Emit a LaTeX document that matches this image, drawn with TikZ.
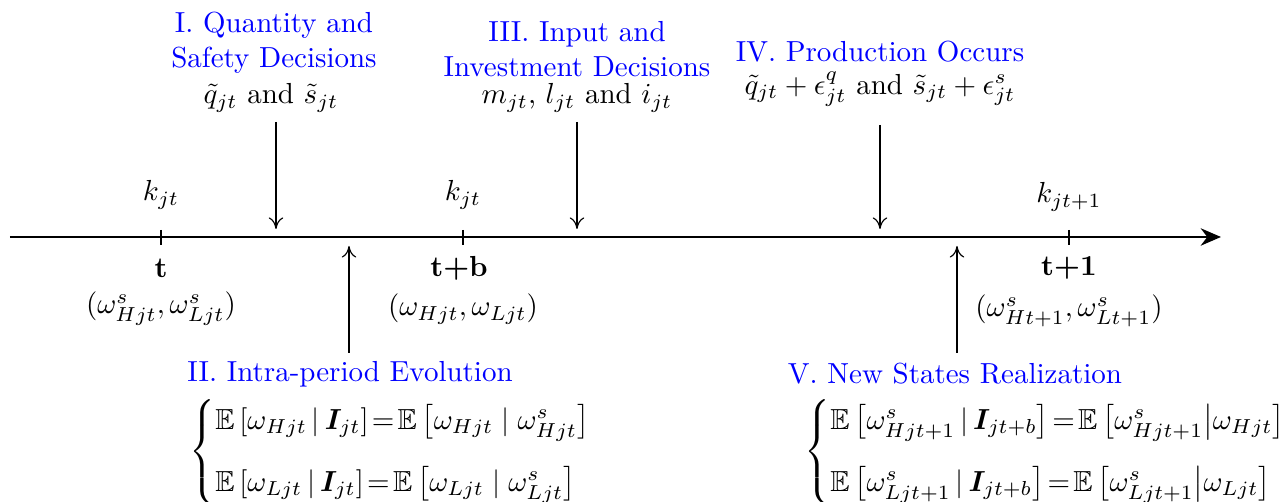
\documentclass[tikz,border=0pt]{standalone}
\usepackage{amsmath,amssymb,bm}
\usetikzlibrary{arrows.meta}
\definecolor{lblblue}{RGB}{0,0,255}
\begin{document}
\begin{tikzpicture}[x=0.3448pt,y=-0.3448pt,
  axis/.style={thick,-{Stealth[length=7pt,width=6pt]}},
  tick/.style={thick},
  evtarrow/.style={thin,-{To[length=4pt,width=5pt]}},
  ttl/.style={text=lblblue,align=center,inner sep=1pt},
  lbl/.style={inner sep=1pt}]
\useasboundingbox (0,0) rectangle (1279,502);
% axis
\coordinate (axL) at (10,237);
\coordinate (axR) at (1221,237);
\draw[axis] (axL) -- (axR);
% ticks
\coordinate (t1a) at (161,230); \coordinate (t1b) at (161,245);
\coordinate (t2a) at (463,230); \coordinate (t2b) at (463,245);
\coordinate (t3a) at (1069,230); \coordinate (t3b) at (1069,245);
\draw[tick] (t1a) -- (t1b);
\draw[tick] (t2a) -- (t2b);
\draw[tick] (t3a) -- (t3b);
% labels above axis
\node[lbl] (k1) at (161,195) {$k_{jt}$};
\node[lbl] (k2) at (463,195) {$k_{jt}$};
\node[lbl] (k3) at (1069,197) {$k_{jt+1}$};
% labels below axis
\node[lbl] (tt1) at (161,268) {\textbf{t}};
\node[lbl] (tt2) at (459,268) {\textbf{t+b}};
\node[lbl] (tt3) at (1069,268) {\textbf{t+1}};
\node[lbl] (w1) at (161,309) {$(\omega^s_{Hjt},\omega^s_{Ljt})$};
\node[lbl] (w2) at (463,309) {$(\omega_{Hjt},\omega_{Ljt})$};
\node[lbl] (w3) at (1069,311) {$(\omega^s_{Ht+1},\omega^s_{Lt+1})$};
% top events
\node[ttl] (e1) at (274,43) {I. Quantity and\\Safety Decisions};
\node[lbl] (e1f) at (271,98) {$\tilde q_{jt}$ and $\tilde s_{jt}$};
\node[ttl] (e3) at (577,49) {III. Input and\\Investment Decisions};
\node[lbl] (e3f) at (577,98) {$m_{jt}$, $l_{jt}$ and $i_{jt}$};
\node[ttl] (e4) at (880,52) {IV. Production Occurs};
\node[lbl] (e4f) at (880,89) {$\tilde q_{jt}+\epsilon^q_{jt}$ and $\tilde s_{jt}+\epsilon^s_{jt}$};
% bottom events
\node[ttl] (e2) at (350,374) {II. Intra-period Evolution};
\node[ttl] (e5) at (955,374) {V. New States Realization};
\node[lbl,anchor=west] (e2f) at (186,452) {$\begin{cases}
\mathbb{E}\left[\omega_{Hjt}\,|\,\bm{I}_{jt}\right]\!=\!\mathbb{E}\left[\omega_{Hjt}\mid\omega^s_{Hjt}\right]\\[7pt]
\mathbb{E}\left[\omega_{Ljt}\,|\,\bm{I}_{jt}\right]\!=\!\mathbb{E}\left[\omega_{Ljt}\mid\omega^s_{Ljt}\right]
\end{cases}$};
\node[lbl,anchor=west] (e5f) at (801,452) {$\begin{cases}
\mathbb{E}\left[\omega^s_{Hjt+1}\,|\,\bm{I}_{jt+b}\right]\!=\!\mathbb{E}\left[\omega^s_{Hjt+1}\middle|\omega_{Hjt}\right]\\[7pt]
\mathbb{E}\left[\omega^s_{Ljt+1}\,|\,\bm{I}_{jt+b}\right]\!=\!\mathbb{E}\left[\omega^s_{Ljt+1}\middle|\omega_{Ljt}\right]
\end{cases}$};
% event arrows
\coordinate (a1s) at (276,122); \coordinate (a1e) at (276,229);
\coordinate (a3s) at (577,122); \coordinate (a3e) at (577,229);
\coordinate (a4s) at (880,125); \coordinate (a4e) at (880,229);
\coordinate (a2s) at (349,353); \coordinate (a2e) at (349,246);
\coordinate (a5s) at (957,353); \coordinate (a5e) at (957,246);
\draw[evtarrow] (a1s) -- (a1e);
\draw[evtarrow] (a3s) -- (a3e);
\draw[evtarrow] (a4s) -- (a4e);
\draw[evtarrow] (a2s) -- (a2e);
\draw[evtarrow] (a5s) -- (a5e);
\end{tikzpicture}
\end{document}
